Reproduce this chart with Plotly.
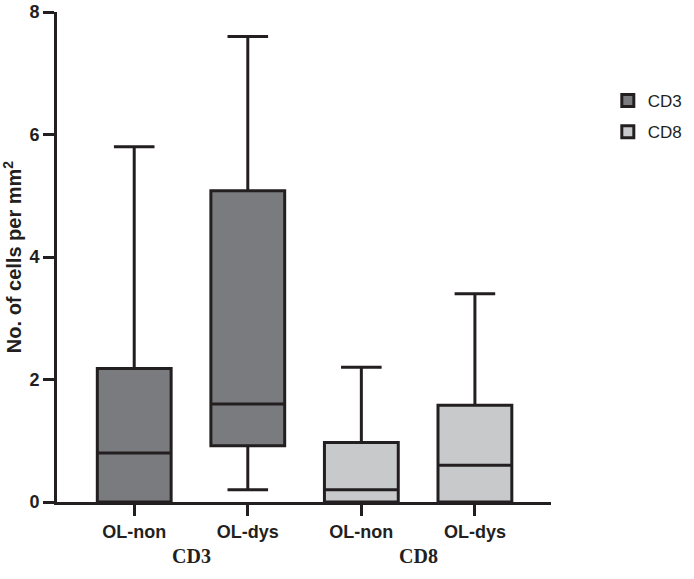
import plotly.graph_objects as go

# Data
categories = ["OL-non", "OL-dys", "OL-non", "OL-dys"]
groups = ["CD3", "CD8"]
cd3_x = [1, 2]
cd3_low = [0.0, 0.2]
cd3_q1 = [0.0, 0.92]
cd3_med = [0.8, 1.6]
cd3_q3 = [2.18, 5.08]
cd3_high = [5.8, 7.6]

cd8_x = [3, 4]
cd8_low = [0.0, 0.0]
cd8_q1 = [0.0, 0.0]
cd8_med = [0.2, 0.6]
cd8_q3 = [0.97, 1.58]
cd8_high = [2.2, 3.4]

ytick_vals = [0, 2, 4, 6, 8]

INK = "#231f20"

fig = go.Figure()
fig.add_trace(go.Box(
    name="CD3", x=cd3_x, q1=cd3_q1, median=cd3_med, q3=cd3_q3,
    lowerfence=cd3_low, upperfence=cd3_high, legendgroup="g3",
    fillcolor="#7a7b7e", line=dict(color=INK, width=3),
    width=0.65, whiskerwidth=0.55, boxpoints=False, hoverinfo="skip",
))
fig.add_trace(go.Box(
    name="CD8", x=cd8_x, q1=cd8_q1, median=cd8_med, q3=cd8_q3,
    lowerfence=cd8_low, upperfence=cd8_high, legendgroup="g8",
    fillcolor="#c8c9cb", line=dict(color=INK, width=3),
    width=0.65, whiskerwidth=0.55, boxpoints=False, hoverinfo="skip",
))

for gx, gname in zip([1.5, 3.5], groups):
    fig.add_annotation(x=gx, y=-0.11, xref="x", yref="paper", text="<b>%s</b>" % gname,
                       yanchor="middle", showarrow=False,
                       font=dict(family="Liberation Serif", size=20, color=INK))

fig.update_layout(
    width=694, height=579,
    margin=dict(l=57, r=143, t=12, b=77, autoexpand=False),
    plot_bgcolor="white", paper_bgcolor="white",
    boxmode="overlay",
    font=dict(family="Liberation Sans, Arial", color=INK),
    showlegend=True,
    legend=dict(x=1.115, y=0.855, xanchor="left", yanchor="top",
                font=dict(size=17, color=INK), tracegroupgap=6,
                bgcolor="rgba(0,0,0,0)"),
    xaxis=dict(
        range=[0.32, 4.67], tickmode="array", tickvals=[1, 2, 3, 4], ticktext=categories,
        showline=True, linecolor=INK, linewidth=3, showgrid=False, zeroline=False,
        ticks="outside", ticklen=11, tickwidth=3, tickcolor=INK, automargin=False,
        tickfont=dict(size=18, weight="bold", color=INK),
    ),
    yaxis=dict(
        range=[0, 8], tickmode="array", tickvals=ytick_vals,
        showline=True, linecolor=INK, linewidth=3, showgrid=False, zeroline=False,
        ticks="outside", ticklen=11, tickwidth=3, tickcolor=INK, automargin=False,
        tickfont=dict(size=18, weight="bold", color=INK),
        title=dict(text="No. of cells per mm<sup>2</sup>", standoff=8,
                   font=dict(size=20, weight="bold", color=INK)),
    ),
)

fig.write_html("out.html")
